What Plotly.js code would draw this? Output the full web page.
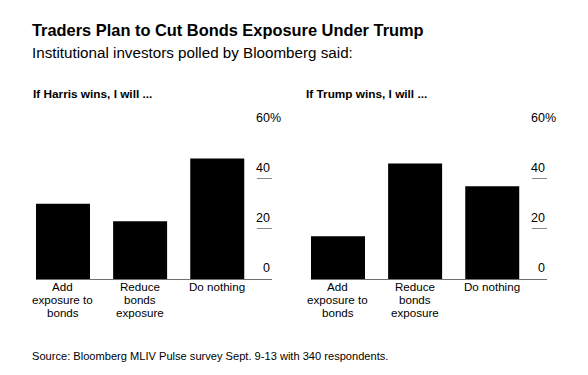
<!DOCTYPE html>
<html>
<head>
<meta charset="utf-8">
<script src="https://cdn.plot.ly/plotly-3.0.1.min.js"></script>
<style>html,body{margin:0;padding:0;background:#fff;}#chart{width:588px;height:375px;}</style>
</head>
<body>
<div id="chart"></div>
<script>
const categories = ["Add<br>exposure to<br>bonds", "Reduce<br>bonds<br>exposure", "Do nothing"];
const harrisValues = [30, 23, 48];
const trumpValues = [17, 46, 37];
const yTickVals = [0, 20, 40, 60];
const yTickText = ["0", "20", "40", "60%"];
const chartTitle = "Traders Plan to Cut Bonds Exposure Under Trump";
const chartSubtitle = "Institutional investors polled by Bloomberg said:";
const panelTitles = ["If Harris wins, I will ...", "If Trump wins, I will ..."];
const sourceText = "Source: Bloomberg MLIV Pulse survey Sept. 9-13 with 340 respondents.";

const W = 588, H = 375;
const px = v => v / W;
const py = v => 1 - v / H;
const FONT = "Liberation Sans, Arial, sans-serif";

const traces = [
  {type: "bar", x: categories, y: harrisValues, xaxis: "x", yaxis: "y",
   marker: {color: "#000000"}, hoverinfo: "skip", showlegend: false},
  {type: "bar", x: categories, y: trumpValues, xaxis: "x2", yaxis: "y2",
   marker: {color: "#000000"}, hoverinfo: "skip", showlegend: false}
];

function xAx(d0, d1, anchor) {
  return {domain: [px(d0), px(d1)], anchor: anchor, type: "category",
    range: [-0.35, 2.71], showline: true, linecolor: "#707070", linewidth: 1,
    ticks: "", showgrid: false, zeroline: false, fixedrange: true,
    showticklabels: false};
}
function yAx(anchor) {
  return {domain: [py(279), py(128.5)], anchor: anchor, range: [0, 60],
    side: "right", showgrid: false, zeroline: false, showline: false,
    ticks: "inside", ticklen: 15.5, tickwidth: 1, tickcolor: "#8a8a8a",
    tickvals: [20, 40, 60], showticklabels: false, fixedrange: true};
}

const annotations = [
  {text: "<b>" + chartTitle + "</b>", xref: "paper", yref: "paper", x: px(30), y: py(30.2),
   xanchor: "left", yanchor: "middle", showarrow: false,
   font: {family: FONT, size: 16.4, color: "#000"}},
  {text: chartSubtitle, xref: "paper", yref: "paper", x: px(30), y: py(52.4),
   xanchor: "left", yanchor: "middle", showarrow: false,
   font: {family: FONT, size: 15.2, color: "#000"}},
  {text: "<b>" + panelTitles[0] + "</b>", xref: "paper", yref: "paper", x: px(30.5), y: py(94),
   xanchor: "left", yanchor: "middle", showarrow: false,
   font: {family: FONT, size: 11.8, color: "#000"}},
  {text: "<b>" + panelTitles[1] + "</b>", xref: "paper", yref: "paper", x: px(304), y: py(94),
   xanchor: "left", yanchor: "middle", showarrow: false,
   font: {family: FONT, size: 11.8, color: "#000"}},
  {text: sourceText, xref: "paper", yref: "paper", x: px(30), y: py(356.2),
   xanchor: "left", yanchor: "middle", showarrow: false,
   font: {family: FONT, size: 11.1, color: "#000"}}
];

[["x", "y"], ["x2", "y2"]].forEach(([xa, ya]) => {
  yTickVals.forEach((v, i) => {
    const isPct = yTickText[i].endsWith("%");
    annotations.push({text: yTickText[i], xref: xa + " domain", yref: ya, x: 1, y: v,
      xanchor: "right", yanchor: "bottom", xshift: isPct ? 11 : 0, yshift: 1.8,
      showarrow: false, font: {family: FONT, size: 12.5, color: "#000"}});
  });
  categories.forEach((c, ci) => {
    c.split("<br>").forEach((line, li) => {
      annotations.push({text: line, xref: xa, yref: ya + " domain", x: ci, y: 0,
        xanchor: "center", yanchor: "middle", yshift: -(7.2 + 13 * li),
        showarrow: false, font: {family: FONT, size: 11.6, color: "#000"}});
    });
  });
});

const layout = {
  width: W, height: H, margin: {l: 0, r: 0, t: 0, b: 0},
  paper_bgcolor: "#ffffff", plot_bgcolor: "#ffffff",
  bargap: 0.3, showlegend: false,
  xaxis: xAx(36, 272, "y"), yaxis: yAx("x"),
  xaxis2: xAx(311, 547, "y2"), yaxis2: yAx("x2"),
  annotations: annotations
};

Plotly.newPlot("chart", traces, layout, {staticPlot: true, displayModeBar: false});
</script>
</body>
</html>
